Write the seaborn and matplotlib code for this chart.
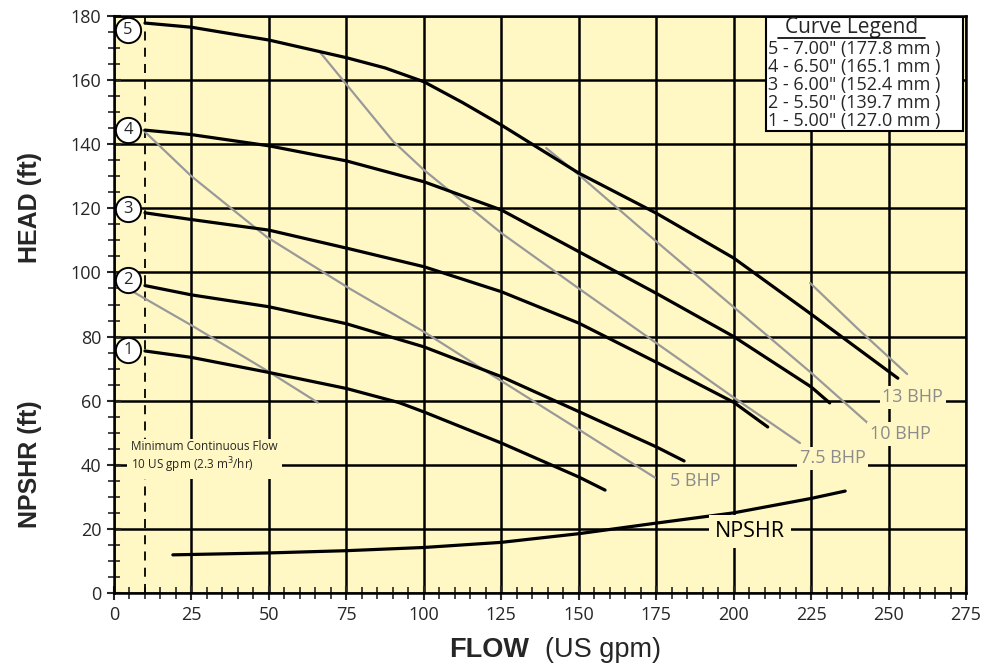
import matplotlib
matplotlib.use("Agg")
import matplotlib.pyplot as plt
import pandas as pd
import seaborn as sns
from matplotlib.patches import Rectangle
from matplotlib.lines import Line2D

# impeller head curves (flow US gpm, head ft)
flow_5 = [10, 25, 50, 75, 87.5, 100, 112.5, 125, 150, 175, 200, 225, 253]
head_5 = [177.8, 176.5, 172.5, 167, 163.8, 159.5, 153, 146, 131, 118.5, 104.5, 87, 67]
flow_4 = [10, 25, 50, 75, 100, 125, 150, 175, 200, 225, 231]
head_4 = [144.4, 143, 139.5, 134.8, 128.3, 119.5, 106.5, 93.5, 80, 64.3, 59.3]
flow_3 = [10, 25, 50, 75, 100, 125, 150, 175, 200, 211]
head_3 = [118.6, 116.5, 113.2, 107.6, 101.8, 94, 84.2, 72, 59.5, 51.8]
flow_2 = [10, 25, 50, 75, 100, 125, 150, 175, 184]
head_2 = [95.9, 93, 89.3, 84, 76.8, 67.5, 56.6, 45.6, 41.2]
flow_1 = [10, 25, 50, 75, 92, 100, 125, 150, 158.5]
head_1 = [75.5, 73.5, 68.8, 63.8, 59.4, 56.5, 46.8, 36.2, 32.1]

# NPSHR curve
npshr_flow = [19, 50, 75, 100, 125, 150, 175, 200, 225, 236]
npshr_ft = [11.9, 12.5, 13.2, 14.2, 15.8, 18.5, 21.8, 25, 29.5, 31.8]

# BHP lines
bhp3_flow = [6.1, 25, 50, 65.8]
bhp3_head = [94, 83.5, 69, 59.4]
bhp5_flow = [9.4, 25, 49.4, 76, 100, 124.6, 150, 174.6]
bhp5_head = [144.4, 130, 111, 95, 81.5, 66.4, 51, 36]
bhp75_flow = [66.5, 76, 90, 100, 125, 150, 175, 200, 221.4]
bhp75_head = [168.7, 157.5, 141, 132, 112.3, 95, 78, 61, 46.8]
bhp10_flow = [139.5, 150, 170, 200, 225, 244]
bhp10_head = [138.8, 130.5, 113.8, 89.2, 68.7, 52.4]
bhp13_flow = [224.7, 240, 256]
bhp13_head = [96.7, 82.5, 68.3]

curve_ids = ["1", "2", "3", "4", "5"]
curve_label_y = [75.8, 97.6, 119.8, 144.4, 175.6]
legend_lines = ['5 - 7.00" (177.8 mm )', '4 - 6.50" (165.1 mm )',
                '3 - 6.00" (152.4 mm )', '2 - 5.50" (139.7 mm )',
                '1 - 5.00" (127.0 mm )']

heads = pd.concat([
    pd.DataFrame({"flow": f, "head": h, "curve": c})
    for f, h, c in [(flow_1, head_1, "1"), (flow_2, head_2, "2"),
                    (flow_3, head_3, "3"), (flow_4, head_4, "4"),
                    (flow_5, head_5, "5")]
])
bhp = pd.concat([
    pd.DataFrame({"flow": f, "head": h, "line": c})
    for f, h, c in [(bhp3_flow, bhp3_head, "3"), (bhp5_flow, bhp5_head, "5"),
                    (bhp75_flow, bhp75_head, "7.5"), (bhp10_flow, bhp10_head, "10"),
                    (bhp13_flow, bhp13_head, "13")]
])

sns.set_style("ticks")
plt.rcParams["font.family"] = ["Open Sans", "DejaVu Sans"]

YELLOW = "#FFF8C4"
GRAY = "#999999"

fig = plt.figure(figsize=(9.82, 6.67), dpi=100)
ax = fig.add_axes([114 / 982, 74 / 667, 852 / 982, 577 / 667])
ax.set_facecolor(YELLOW)

sns.lineplot(data=bhp, x="flow", y="head", units="line", estimator=None,
             sort=False, color=GRAY, lw=1.6, ax=ax, zorder=3)
sns.lineplot(data=heads, x="flow", y="head", units="curve", estimator=None,
             sort=False, color="black", lw=2.3, ax=ax, zorder=4)
sns.lineplot(x=npshr_flow, y=npshr_ft, sort=False, color="black", lw=2.3,
             ax=ax, zorder=4)

# circled curve numbers
sns.scatterplot(x=[4.5] * 5, y=curve_label_y, s=330, color="white",
                edgecolor="black", linewidth=1.4, ax=ax, zorder=6, legend=False)
for cid, yv in zip(curve_ids, curve_label_y):
    ax.text(4.5, yv, cid, ha="center", va="center", fontsize=12, zorder=7)

# minimum continuous flow
ax.axvline(10, color="black", lw=1.3, ls=(0, (5, 4)), zorder=2)

ax.set_xlim(0, 275)
ax.set_ylim(0, 180)
ax.set_xticks(range(0, 276, 25))
ax.set_yticks(range(0, 181, 20))
ax.set_xticks(range(0, 276, 5), minor=True)
ax.set_yticks(range(0, 181, 5), minor=True)
ax.grid(which="major", color="black", lw=1.8)
ax.set_axisbelow(True)
ax.tick_params(which="major", direction="inout", length=10, width=1.5,
               labelsize=13, pad=4)
ax.tick_params(which="minor", direction="inout", length=8, width=1.2)
for sp in ax.spines.values():
    sp.set_visible(True)
    sp.set_color("black")
    sp.set_linewidth(1.8)
ax.set_xlabel("")
ax.set_ylabel("")

box = dict(facecolor=YELLOW, edgecolor="none", pad=2)
ax.text(5.5, 42.3, "Minimum Continuous Flow\n10 US gpm (2.3 m$^3$/hr)",
        fontsize=8.5, va="center", ha="left", linespacing=1.15,
        bbox=dict(facecolor=YELLOW, edgecolor="none", pad=3), zorder=5)
lab_kw = dict(color="#8C8C8C", fontsize=13, va="center", bbox=box, zorder=5)
ax.text(179.5, 35, "5 BHP", **lab_kw)
ax.text(221.4, 42, "7.5 BHP", **lab_kw)
ax.text(244, 49.6, "10 BHP", **lab_kw)
ax.text(248, 61, "13 BHP", **lab_kw)
ax.text(205.3, 19.2, "NPSHR", color="black", fontsize=15.5, va="center", ha="center",
        bbox=dict(facecolor=YELLOW, edgecolor="none", pad=4), zorder=5)

# curve legend box
ax.add_patch(Rectangle((210.5, 144.1), 63.5, 35.6, facecolor="white",
                       edgecolor="black", lw=1.5, zorder=8))
ax.text(238, 176.3, "Curve Legend", fontsize=15, ha="center", va="center", zorder=9)
ax.add_line(Line2D([214.3, 261.8], [173.2, 173.2], color="black", lw=1.2, zorder=9))
for i, txt in enumerate(legend_lines):
    ax.text(211.0, 169.6 - i * 5.55, txt, fontsize=13, ha="left", va="center", zorder=9)

# axis titles
fig.text(30 / 982, 1 - 208 / 667, "HEAD (ft)", rotation=90, ha="center", va="center",
         fontsize=18, fontweight="bold", family="Liberation Sans")
fig.text(30 / 982, 1 - 464 / 667, "NPSHR (ft)", rotation=90, ha="center", va="center",
         fontsize=18, fontweight="bold", family="Liberation Sans")
fig.text(529 / 982, 1 - 650 / 667, "FLOW", ha="right", va="center",
         fontsize=19.5, fontweight="bold", family="Liberation Sans")
fig.text(545 / 982, 1 - 650 / 667, "(US gpm)", ha="left", va="center",
         fontsize=19.5, family="Liberation Sans")

fig.savefig("out.png", dpi=100)
